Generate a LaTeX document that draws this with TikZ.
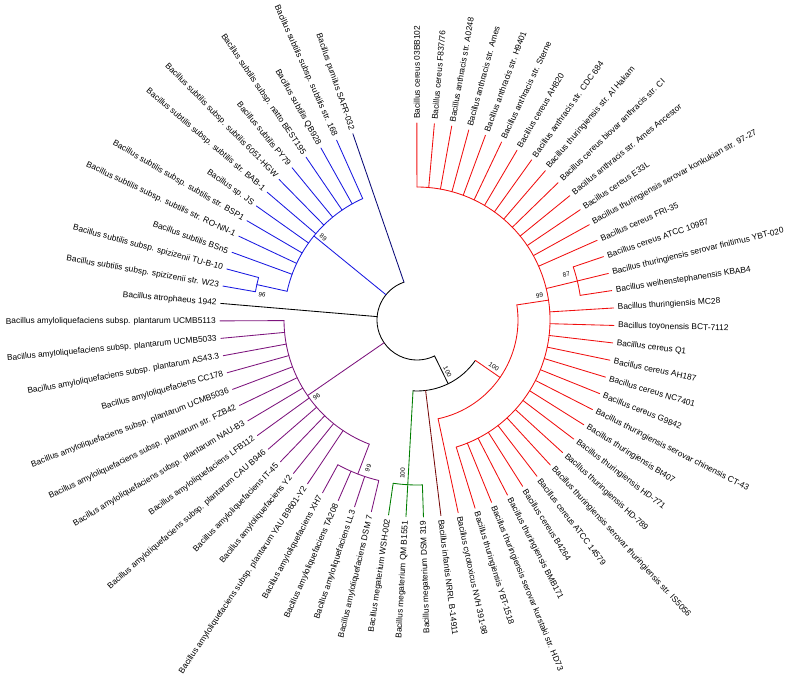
\documentclass[tikz,border=0pt]{standalone}
\usepackage{fontspec}
\setmainfont{Liberation Sans}
\definecolor{cnavy}{RGB}{10,10,120}
\definecolor{cblue}{RGB}{25,25,225}
\definecolor{cpurple}{RGB}{125,20,125}
\definecolor{cgreen}{RGB}{0,125,0}
\definecolor{cbrown}{RGB}{120,10,10}
\definecolor{cred}{RGB}{240,15,15}
\begin{document}
\begin{tikzpicture}[x=1bp,y=1bp,line join=round,line cap=round]
\tikzset{branch/.style={line width=0.85bp},
	taxon/.style={font=\fontsize{8.4}{9}\selectfont,inner sep=0pt},
	boot/.style={font=\fontsize{6.4}{7}\selectfont,inner sep=0pt}}
\useasboundingbox (-417,-364) rectangle (370,320);
\def\da{5.09}	\def\rl{197}
\def\th#1{(109+(#1-1)*\da)}
% angles of the inner nodes
\pgfmathsetmacro\tone{\th{1}}
\pgfmathsetmacro\tspz{(\th{12}+\th{13})/2}
\pgfmathsetmacro\tsub{(\th{2}+\tspz)/2}
\pgfmathsetmacro\tamy{(\th{27}+\th{30})/2}
\pgfmathsetmacro\tpla{(\th{15}+\tamy)/2}
\pgfmathsetmacro\tmeg{(\th{31}+\th{33})/2}
\pgfmathsetmacro\tcer{(\th{36}+\th{68})/2}
\pgfmathsetmacro\tbcg{(\th{35}+\tcer)/2}
\pgfmathsetmacro\tout{(\tmeg+\tbcg)/2}
\pgfmathsetmacro\tfin{\th{53}}
% root and outgroup
\draw[branch] (\tone:40) arc[start angle=\tone,end angle=\tout,radius=40];
\draw[branch] (\tout:40) coordinate (root) -- (\tout:71) coordinate (nout);
\draw[branch] (\tmeg:71) arc[start angle=\tmeg,end angle=\tbcg,radius=71];
% subtilis
\draw[branch,cblue] (\tsub:40) -- (\tsub:133) coordinate (nsub);
\draw[branch,cblue] ({\th{2}}:133) arc[start angle={\th{2}},end angle=\tspz,radius=133];
\draw[branch,cblue] (\tspz:133) -- (\tspz:164) coordinate (nspz);
\draw[branch,cblue] ({\th{12}}:164) arc[start angle={\th{12}},end angle={\th{13}},radius=164];
% amyloliquefaciens
\draw[branch,cpurple] (\tpla:40) -- (\tpla:133) coordinate (npla);
\draw[branch,cpurple] ({\th{15}}:133) arc[start angle={\th{15}},end angle=\tamy,radius=133];
\draw[branch,cpurple] (\tamy:133) -- (\tamy:165) coordinate (namy);
\draw[branch,cpurple] ({\th{27}}:165) arc[start angle={\th{27}},end angle={\th{30}},radius=165];
% megaterium
\draw[branch,cgreen] (\tmeg:71) -- (\tmeg:165) coordinate (nmeg);
\draw[branch,cgreen] ({\th{31}}:165) arc[start angle={\th{31}},end angle={\th{33}},radius=165];
% cereus group
\draw[branch,cred] (\tbcg:71) -- (\tbcg:101) coordinate (nbcg);
\draw[branch,cred] ({\th{35}}:101) arc[start angle={\th{35}},end angle=\tcer,radius=101];
\draw[branch,cred] (\tcer:101) -- (\tcer:133) coordinate (ncer);
\draw[branch,cred] ({\th{36}}:133) arc[start angle={\th{36}},end angle={\th{68}},radius=133];
\draw[branch,cred] (\tfin:133) -- (\tfin:165) coordinate (nfin);
\draw[branch,cred] ({\th{52}}:165) arc[start angle={\th{52}},end angle={\th{54}},radius=165];
% leaves
\foreach \k/\rp/\col/\txt in {
	1/40/cnavy/Bacillus pumilus SAFR-032,
	2/133/cblue/Bacillus subtilis subsp. subtilis str. 168,
	3/133/cblue/Bacillus subtilis QB928,
	4/133/cblue/Bacillus subtilis subsp. natto BEST195,
	5/133/cblue/Bacillus subtilis PY79,
	6/133/cblue/Bacillus subtilis subsp. subtilis 6051-HGW,
	7/133/cblue/Bacillus subtilis subsp. subtilis str. BAB-1,
	8/133/cblue/Bacillus sp. JS,
	9/133/cblue/Bacillus subtilis subsp. subtilis str. BSP1,
	10/133/cblue/Bacillus subtilis subsp. subtilis str. RO-NN-1,
	11/133/cblue/Bacillus subtilis BSn5,
	12/164/cblue/Bacillus subtilis subsp. spizizenii TU-B-10,
	13/164/cblue/Bacillus subtilis subsp. spizizenii str. W23,
	14/40/black/Bacillus atrophaeus 1942,
	15/133/cpurple/Bacillus amyloliquefaciens subsp. plantarum UCMB5113,
	16/133/cpurple/Bacillus amyloliquefaciens subsp. plantarum UCMB5033,
	17/133/cpurple/Bacillus amyloliquefaciens subsp. plantarum AS43.3,
	18/133/cpurple/Bacillus amyloliquefaciens CC178,
	19/133/cpurple/Bacillus amyloliquefaciens subsp. plantarum UCMB5036,
	20/133/cpurple/Bacillus amyloliquefaciens subsp. plantarum str. FZB42,
	21/133/cpurple/Bacillus amyloliquefaciens subsp. plantarum NAU-B3,
	22/133/cpurple/Bacillus amyloliquefaciens LFB112,
	23/133/cpurple/Bacillus amyloliquefaciens subsp. plantarum CAU B946,
	24/133/cpurple/Bacillus amyloliquefaciens IT-45,
	25/133/cpurple/Bacillus amyloliquefaciens Y2,
	26/133/cpurple/Bacillus amyloliquefaciens subsp. plantarum YAU B9601-Y2,
	27/165/cpurple/Bacillus amyloliquefaciens XH7,
	28/165/cpurple/Bacillus amyloliquefaciens TA208,
	29/165/cpurple/Bacillus amyloliquefaciens LL3,
	30/165/cpurple/Bacillus amyloliquefaciens DSM 7,
	31/165/cgreen/Bacillus megaterium WSH-002,
	32/165/cgreen/Bacillus megaterium QM B1551,
	33/165/cgreen/Bacillus megaterium DSM 319,
	34/71/cbrown/Bacillus infantis NRRL B-14911,
	35/101/cred/Bacillus cytotoxicus NVH 391-98,
	36/133/cred/Bacillus thuringiensis YBT-1518,
	37/133/cred/Bacillus thuringiensis serovar kurstaki str. HD73,
	38/133/cred/Bacillus thuringiensis BMB171,
	39/133/cred/Bacillus cereus B4264,
	40/133/cred/Bacillus cereus ATCC 14579,
	41/133/cred/Bacillus thuringiensis serovar thuringiensis str. IS5056,
	42/133/cred/Bacillus thuringiensis HD-789,
	43/133/cred/Bacillus thuringiensis HD-771,
	44/133/cred/Bacillus thuringiensis Bt407,
	45/133/cred/Bacillus thuringiensis serovar chinensis CT-43,
	46/133/cred/Bacillus cereus G9842,
	47/133/cred/Bacillus cereus NC7401,
	48/133/cred/Bacillus cereus AH187,
	49/133/cred/Bacillus cereus Q1,
	50/133/cred/Bacillus toyonensis BCT-7112,
	51/133/cred/Bacillus thuringiensis MC28,
	52/165/cred/Bacillus weihenstephanensis KBAB4,
	53/165/cred/Bacillus thuringiensis serovar finitimus YBT-020,
	54/165/cred/Bacillus cereus ATCC 10987,
	55/133/cred/Bacillus cereus FRI-35,
	56/133/cred/Bacillus thuringiensis serovar konkukian str. 97-27,
	57/133/cred/Bacillus cereus E33L,
	58/133/cred/Bacillus anthracis str. Ames Ancestor,
	59/133/cred/Bacillus cereus biovar anthracis str. CI,
	60/133/cred/Bacillus thuringiensis str. Al Hakam,
	61/133/cred/Bacillus anthracis str. CDC 684,
	62/133/cred/Bacillus cereus AH820,
	63/133/cred/Bacillus anthracis str. Sterne,
	64/133/cred/Bacillus anthracis str. H9401,
	65/133/cred/Bacillus anthracis str. Ames,
	66/133/cred/Bacillus anthracis str. A0248,
	67/133/cred/{Bacillus cereus F837/76},
	68/133/cred/Bacillus cereus 03BB102}{
	\pgfmathsetmacro\a{\th{\k}}
	\pgfmathtruncatemacro\flip{(\a>90.5)&&(\a<275)}
	\ifnum\flip=1 \def\rot{\a-180}\def\anc{east}\else\def\rot{\a}\def\anc{west}\fi
	\draw[branch,\col] (\a:\rp) coordinate (b\k) -- (\a:\rl) coordinate (t\k);
	\node[taxon,rotate=\rot,anchor=\anc] (n\k) at (\a:201) {\txt};
}
% bootstrap values
\node[boot,rotate=\tsub-180] (bs1) at ({\tsub-2.2}:125) {89};
\node[boot,rotate=\tspz-180] (bs2) at ({\tspz+3.2}:157) {96};
\node[boot,rotate=\tpla-180] (bs3) at ({\tpla+2.6}:126) {96};
\node[boot,rotate=\tamy-180] (bs4) at ({\tamy+2.8}:156) {99};
\node[boot,rotate=\tmeg-180] (bs5) at ({\tmeg-2.2}:154) {100};
\node[boot,rotate=\tout] (bs6) at ({\tout+4.5}:60) {100};
\node[boot,rotate=\tbcg] (bs7) at ({\tbcg+3.3}:90) {100};
\node[boot,rotate=\tcer] (bs8) at ({\tcer+2.8}:125) {99};
\node[boot,rotate=\tfin] (bs9) at ({\tfin+3.2}:156) {87};
\end{tikzpicture}
\end{document}
